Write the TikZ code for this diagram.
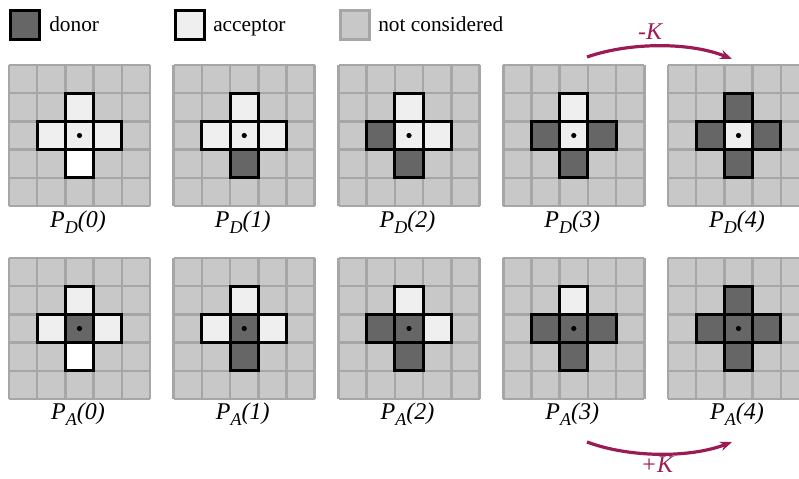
\documentclass[tikz,border=0pt]{standalone}
\usepackage{fontspec}
\setmainfont{Liberation Serif}
\usetikzlibrary{arrows.meta}
\definecolor{dk}{HTML}{666666}
\definecolor{lt}{HTML}{EFEFEF}
\definecolor{nc}{HTML}{C8C8C8}
\definecolor{gl}{HTML}{A6A6A6}
\definecolor{arr}{HTML}{9B1B55}
\tikzset{
  gridline/.style={draw=gl, line width=1.9pt},
  crosscell/.style={draw=black, line width=2.25pt, line join=miter},
  legtext/.style={anchor=base west, font=\fontsize{16}{18}\selectfont, inner sep=0pt},
  plabel/.style={anchor=base, font=\fontsize{18}{20}\selectfont\itshape, inner sep=0pt},
  klabel/.style={font=\fontsize{18}{20}\selectfont\itshape, text=arr, inner sep=0pt},
  karrow/.style={draw=arr, line width=2.4pt, -{Stealth[length=9pt,width=7pt]}},
}
\newcommand\subsc[1]{\raisebox{-5pt}{\fontsize{13.5}{14}\selectfont #1}}
% #1 x, #2 y, #3 up, #4 left, #5 right, #6 down, #7 centre
\newcommand\plusgrid[7]{%
  \begin{scope}[shift={(#1,#2)}]
    \fill[nc] (0,0) rectangle (141,141);
    \foreach \k in {0,28.2,56.4,84.6,112.8,141}{
      \draw[gridline] (\k,0) -- (\k,141);
      \draw[gridline] (0,\k) -- (141,\k);
    }
    \path[crosscell, fill=#3] (56.4,28.2) rectangle (84.6,56.4);
    \path[crosscell, fill=#4] (28.2,56.4) rectangle (56.4,84.6);
    \path[crosscell, fill=#5] (84.6,56.4) rectangle (112.8,84.6);
    \path[crosscell, fill=#6] (56.4,84.6) rectangle (84.6,112.8);
    \path[crosscell, fill=#7] (56.4,56.4) rectangle (84.6,84.6);
    \fill[black] (70.5,70.5) circle (2.6);
  \end{scope}}
\begin{document}
\begin{tikzpicture}[x=0.75pt,y=-0.75pt]
\useasboundingbox (0,0) rectangle (799,478);
% legend
\path[draw=black, line width=2.25pt, fill=dk] (10.5,10.5) rectangle (39.5,39.5);
\node[legtext] (ldonor) at (49,32) {donor};
\path[draw=black, line width=2.25pt, fill=lt] (175.5,10.5) rectangle (204.5,39.5);
\node[legtext] (lacc) at (213,32) {acceptor};
\path[draw=gl, line width=2.25pt, fill=nc] (340.5,10.5) rectangle (369.5,39.5);
\node[legtext] (lnc) at (378,32) {not considered};
% top row P_D
\plusgrid{9}{65}{lt}{lt}{lt}{white}{lt}
\plusgrid{173.75}{65}{lt}{lt}{lt}{dk}{lt}
\plusgrid{338.5}{65}{lt}{dk}{lt}{dk}{lt}
\plusgrid{503.25}{65}{lt}{dk}{dk}{dk}{lt}
\plusgrid{668}{65}{dk}{dk}{dk}{dk}{lt}
% bottom row P_A
\plusgrid{9}{258}{lt}{lt}{lt}{white}{dk}
\plusgrid{173.75}{258}{lt}{lt}{lt}{dk}{dk}
\plusgrid{338.5}{258}{lt}{dk}{lt}{dk}{dk}
\plusgrid{503.25}{258}{lt}{dk}{dk}{dk}{dk}
\plusgrid{668}{258}{dk}{dk}{dk}{dk}{dk}
% labels
\node[plabel] (pd0) at (78,227) {P\subsc{D}(0)};
\node[plabel] (pd1) at (242.75,227) {P\subsc{D}(1)};
\node[plabel] (pd2) at (407.5,227) {P\subsc{D}(2)};
\node[plabel] (pd3) at (572.25,227) {P\subsc{D}(3)};
\node[plabel] (pd4) at (737,227) {P\subsc{D}(4)};
\node[plabel] (pa0) at (78,419) {P\subsc{A}(0)};
\node[plabel] (pa1) at (242.75,419) {P\subsc{A}(1)};
\node[plabel] (pa2) at (407.5,419) {P\subsc{A}(2)};
\node[plabel] (pa3) at (572.25,419) {P\subsc{A}(3)};
\node[plabel] (pa4) at (737,419) {P\subsc{A}(4)};
% arrows
\coordinate (ts) at (587,57);
\coordinate (te) at (732,59);
\coordinate (bs) at (587,442);
\coordinate (be) at (732,442);
\draw[karrow] (ts) .. controls (630,42) and (690,42) .. (te);
\draw[karrow] (bs) .. controls (630,458) and (690,458) .. (be);
\node[klabel] (kminus) at (650,32) {-K};
\node[klabel] (kplus) at (657,465) {+K};
\end{tikzpicture}
\end{document}
